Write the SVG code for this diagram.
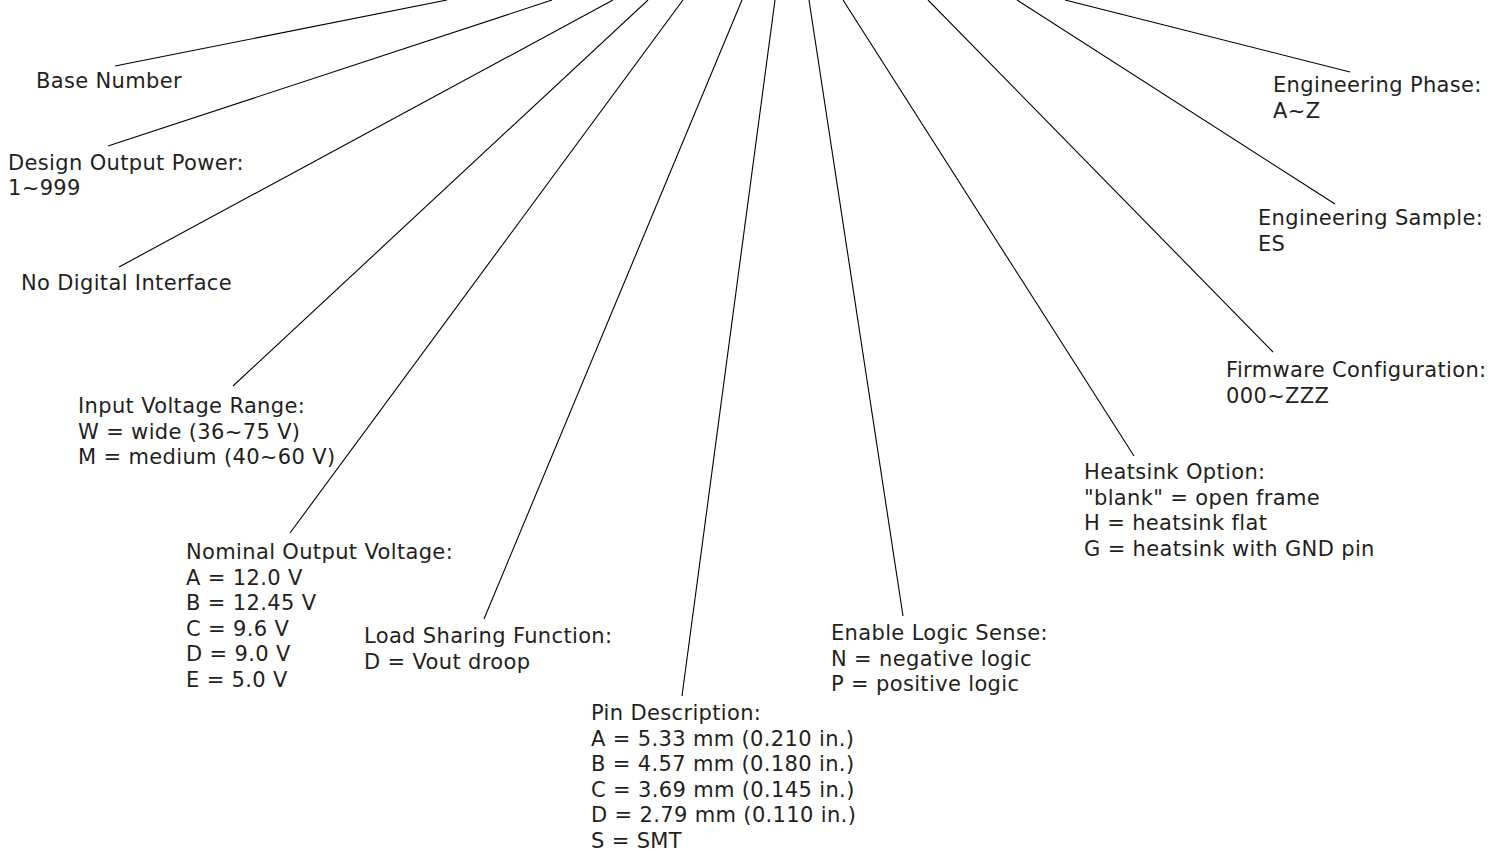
<svg xmlns="http://www.w3.org/2000/svg" width="1503" height="852" viewBox="0 0 1503 852">
<style>
text{font-family:"DejaVu Sans",Verdana,sans-serif;font-size:21px;letter-spacing:0.35px;fill:#231f20}
.c line{stroke:#000;stroke-width:1.1}
</style>
<rect width="1503" height="852" fill="#fff"/>
<g class="c" id="connectors">
<line x1="447" y1="0" x2="115" y2="66"/>
<line x1="552" y1="0" x2="108" y2="146"/>
<line x1="613" y1="0" x2="119" y2="267"/>
<line x1="648" y1="0" x2="233" y2="386"/>
<line x1="683" y1="0" x2="290" y2="533"/>
<line x1="742" y1="0" x2="484" y2="619"/>
<line x1="775" y1="0" x2="682" y2="696"/>
<line x1="809" y1="0" x2="903" y2="616"/>
<line x1="843" y1="0" x2="1134" y2="456"/>
<line x1="928" y1="0" x2="1273" y2="352"/>
<line x1="1017" y1="0" x2="1335" y2="204"/>
<line x1="1065" y1="0" x2="1350" y2="72"/>
</g>
<g id="base"><text x="36" y="88">Base Number</text></g>
<g id="power"><text x="8" y="170">Design Output Power:</text><text x="8" y="195">1~999</text></g>
<g id="digital"><text x="21" y="290">No Digital Interface</text></g>
<g id="input"><text x="78" y="413">Input Voltage Range:</text><text x="78" y="438.5">W = wide (36~75 V)</text><text x="78" y="464">M = medium (40~60 V)</text></g>
<g id="nominal"><text x="186" y="559">Nominal Output Voltage:</text><text x="186" y="584.5">A = 12.0 V</text><text x="186" y="610">B = 12.45 V</text><text x="186" y="635.5">C = 9.6 V</text><text x="186" y="661">D = 9.0 V</text><text x="186" y="686.5">E = 5.0 V</text></g>
<g id="load"><text x="364" y="643">Load Sharing Function:</text><text x="364" y="668.5">D = Vout droop</text></g>
<g id="pin"><text x="591" y="720">Pin Description:</text><text x="591" y="745.5">A = 5.33 mm (0.210 in.)</text><text x="591" y="771">B = 4.57 mm (0.180 in.)</text><text x="591" y="796.5">C = 3.69 mm (0.145 in.)</text><text x="591" y="822">D = 2.79 mm (0.110 in.)</text><text x="591" y="847.5">S = SMT</text></g>
<g id="enable"><text x="831" y="640">Enable Logic Sense:</text><text x="831" y="665.5">N = negative logic</text><text x="831" y="691">P = positive logic</text></g>
<g id="heatsink"><text x="1084" y="479">Heatsink Option:</text><text x="1084" y="504.5">"blank" = open frame</text><text x="1084" y="530">H = heatsink flat</text><text x="1084" y="555.5">G = heatsink with GND pin</text></g>
<g id="firmware"><text x="1226" y="377">Firmware Configuration:</text><text x="1226" y="402.5">000~ZZZ</text></g>
<g id="sample"><text x="1258" y="225">Engineering Sample:</text><text x="1258" y="250.5">ES</text></g>
<g id="phase"><text x="1273" y="92">Engineering Phase:</text><text x="1273" y="117.5">A~Z</text></g>
</svg>
